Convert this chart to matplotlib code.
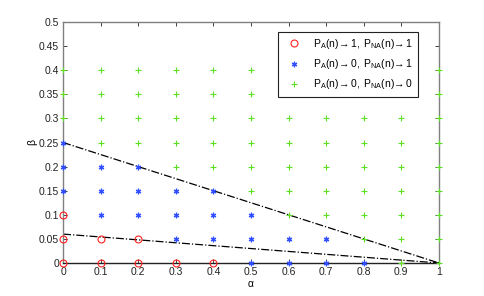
import matplotlib
matplotlib.use("Agg")
import matplotlib.pyplot as plt
import numpy as np

# grid points per region (alpha, beta)
red_alpha = [0, 0, 0, 0.1, 0.1, 0.2, 0.2, 0.3, 0.4]
red_beta = [0, 0.05, 0.1, 0, 0.05, 0, 0.05, 0, 0]

blue_alpha = [0, 0, 0, 0.1, 0.1, 0.1, 0.2, 0.2, 0.2, 0.3, 0.3, 0.3,
              0.4, 0.4, 0.4, 0.5, 0.5, 0.5, 0.6, 0.6, 0.7, 0.7, 0.8]
blue_beta = [0.15, 0.2, 0.25, 0.1, 0.15, 0.2, 0.1, 0.15, 0.2, 0.05, 0.1, 0.15,
             0.05, 0.1, 0.15, 0, 0.05, 0.1, 0, 0.05, 0, 0.05, 0]

# lowest green beta in each alpha column; green continues up to 0.4
alpha_cols = [0, 0.1, 0.2, 0.3, 0.4, 0.5, 0.6, 0.7, 0.8, 0.9, 1.0]
green_start = [0.3, 0.25, 0.25, 0.2, 0.2, 0.15, 0.1, 0.1, 0.05, 0, 0]
beta_levels = [0, 0.05, 0.1, 0.15, 0.2, 0.25, 0.3, 0.35, 0.4]

# boundary lines (dash-dot)
upper_line_x = [0, 1]
upper_line_y = [0.25, 0]
lower_line_x = [0, 1]
lower_line_y = [0.06, 0]

green_alpha = []
green_beta = []
for a, s in zip(alpha_cols, green_start):
    for b in beta_levels:
        if b >= s - 1e-9:
            green_alpha.append(a)
            green_beta.append(b)

plt.rcParams["font.family"] = ["Liberation Sans", "DejaVu Sans"]
plt.rcParams["mathtext.fontset"] = "custom"
plt.rcParams["mathtext.rm"] = "Liberation Sans"
plt.rcParams["mathtext.it"] = "Liberation Sans"
plt.rcParams["font.size"] = 7.5

fig = plt.figure(figsize=(4.85, 2.96), dpi=100)
ax = fig.add_axes([0.13, 0.1115, 0.775, 0.814])

ax.plot(red_alpha, red_beta, "o", mfc="none", mec="#ff2020", ms=5, mew=0.8,
        label=r"$\mathrm{P_A(n)\!\rightarrow 1,\ P_{NA}(n)\!\rightarrow 1}$", clip_on=False, zorder=3)
ax.plot(blue_alpha, blue_beta, marker=(6, 2, 0), ls="none", color="#3050ff", ms=4, mew=0.9,
        label=r"$\mathrm{P_A(n)\!\rightarrow 0,\ P_{NA}(n)\!\rightarrow 1}$", clip_on=False, zorder=3)
ax.plot(green_alpha, green_beta, "+", color="#5de024", ms=5, mew=0.8,
        label=r"$\mathrm{P_A(n)\!\rightarrow 0,\ P_{NA}(n)\!\rightarrow 0}$", clip_on=False, zorder=3)

ax.plot(upper_line_x, upper_line_y, color="black", ls="-.", lw=0.9, zorder=2)
ax.plot(lower_line_x, lower_line_y, color="black", ls="-.", lw=0.9, zorder=2)

ax.set_xlim(0, 1)
ax.set_ylim(0, 0.5)
ax.set_xticks(np.arange(0, 1.01, 0.1))
ax.set_xticklabels(["0", "0.1", "0.2", "0.3", "0.4", "0.5", "0.6", "0.7", "0.8", "0.9", "1"])
ax.set_yticks(np.arange(0, 0.501, 0.05))
ax.set_yticklabels(["0", "0.05", "0.1", "0.15", "0.2", "0.25", "0.3", "0.35", "0.4", "0.45", "0.5"])
ax.tick_params(direction="in", length=3, width=0.6, top=True, right=True, pad=3, colors="#222222")
for side in ["top", "left", "right"]:
    ax.spines[side].set_color("#808080")
    ax.spines[side].set_linewidth(1.0)
ax.spines["bottom"].set_color("#222222")
ax.spines["bottom"].set_linewidth(1.0)

ax.set_xlabel(r"$\alpha$", labelpad=1)
ax.set_ylabel(r"$\beta$", labelpad=-1)

leg = ax.legend(loc="upper right", bbox_to_anchor=(0.945, 0.96), fancybox=False,
                edgecolor="#222222", framealpha=1, handlelength=2.0, borderpad=0.5,
                labelspacing=0.6, handletextpad=0.8, borderaxespad=0)
leg.get_frame().set_linewidth(0.8)

fig.savefig("out.png", dpi=100)
